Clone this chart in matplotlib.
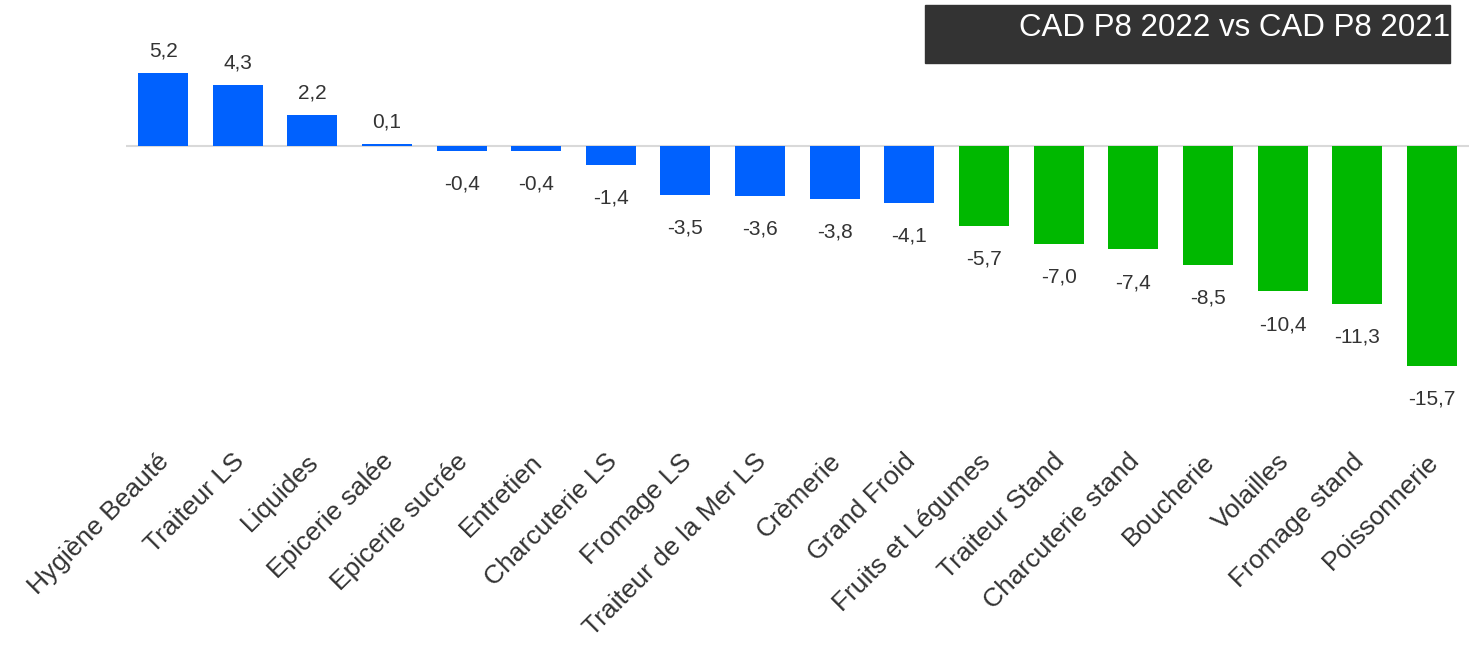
import matplotlib
matplotlib.use('Agg')
import matplotlib.pyplot as plt
from matplotlib.patches import Rectangle
from matplotlib.transforms import ScaledTranslation

plt.rcParams['font.family'] = ['Liberation Sans', 'DejaVu Sans']

categories = ['Hygiène Beauté', 'Traiteur LS', 'Liquides', 'Epicerie salée',
              'Epicerie sucrée', 'Entretien', 'Charcuterie LS', 'Fromage LS',
              'Traiteur de la Mer LS', 'Crèmerie', 'Grand Froid',
              'Fruits et Légumes', 'Traiteur Stand', 'Charcuterie stand',
              'Boucherie', 'Volailles', 'Fromage stand', 'Poissonnerie']
values = [5.2, 4.3, 2.2, 0.1, -0.4, -0.4, -1.4, -3.5, -3.6, -3.8, -4.1,
          -5.7, -7.0, -7.4, -8.5, -10.4, -11.3, -15.7]
groups = ['LS'] * 11 + ['Stand'] * 7

colors = {'LS': '#0061FE', 'Stand': '#00B800'}
text_col = '#333333'

fig = plt.figure(figsize=(14.81, 6.47), dpi=100)
ax = fig.add_axes([0.0849, 0.3957, 0.9071, 0.6043])

x = range(len(categories))
bars = ax.bar(x, values, width=0.67, color=[colors[g] for g in groups], zorder=2)
ax.axhline(0, color='#d9d9d9', lw=1.5, zorder=1)

for xi, v in zip(x, values):
    lab = f'{v:.1f}'.replace('.', ',')
    if v >= 0:
        ax.annotate(lab, (xi, v), xytext=(0, 9), textcoords='offset points',
                    ha='center', va='bottom', fontsize=15, color=text_col)
    else:
        ax.annotate(lab, (xi, v), xytext=(0, -17), textcoords='offset points',
                    ha='center', va='top', fontsize=15, color=text_col)

ax.set_xlim(-0.5, len(categories) - 0.5)
ax.set_ylim(-17.5, 10.4)
ax.set_xticks(list(x))
ax.set_xticklabels(categories, rotation=45, ha='right', va='top',
                   rotation_mode='anchor', fontsize=19, color=text_col)
ax.tick_params(axis='x', length=0, pad=42)
shift = ScaledTranslation(-6 / 100, 0, fig.dpi_scale_trans)
for lbl in ax.get_xticklabels():
    lbl.set_transform(lbl.get_transform() + shift)
ax.set_yticks([])
for s in ax.spines.values():
    s.set_visible(False)

fig.patches.append(Rectangle((0.6246, 0.9026), 0.3545, 0.0896,
                             transform=fig.transFigure, color='#333333', zorder=0))
fig.text(0.979, 0.956, 'CAD P8 2022 vs CAD P8 2021', ha='right', va='center',
         fontsize=22.5, color='white')

fig.savefig('out.png', dpi=100)
